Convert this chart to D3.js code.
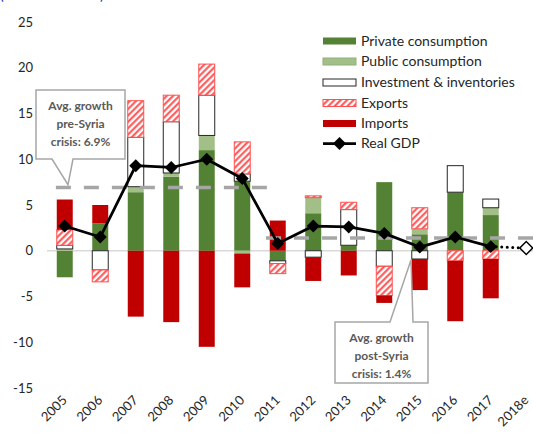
<!DOCTYPE html>
<html>
<head>
<meta charset="utf-8">
<script src="https://cdn.jsdelivr.net/npm/d3@7"></script>
<style>
body { margin: 0; background: #fff; }
svg { display: block; font-family: Lato, "Open Sans", sans-serif; }
</style>
</head>
<body>
<div id="chart"></div>
<script>
// Contributions to real GDP growth (percentage points)
var years = ["2005", "2006", "2007", "2008", "2009", "2010", "2011", "2012", "2013", "2014", "2015", "2016", "2017", "2018e"];
var privateCons = [-2.9, 3.0, 6.4, 8.1, 11.0, 7.6, -1.1, 4.1, 0.6, 7.5, 1.8, 6.4, 3.9, null];
var publicCons  = [0.2, 0, 0.6, 0.4, 1.6, -0.3, 0, 1.7, 0, 0, 0.6, 0, 0.8, null];
var investment  = [0.4, -2.1, 5.4, 5.6, 4.4, 0.8, -0.3, -0.7, 3.9, -1.7, -0.9, 2.9, 0.95, null];
var exportsC    = [1.7, -1.3, 4.0, 2.9, 3.4, 3.5, -1.1, 0.2, 0.8, -3.2, 2.3, -1.1, -0.9, null];
var importsC    = [3.3, 2.0, -7.2, -7.8, -10.5, -3.7, 3.3, -2.6, -2.7, -0.8, -3.4, -6.6, -4.3, null];
var realGDP     = [2.7, 1.5, 9.3, 9.1, 10.0, 7.9, 0.8, 2.7, 2.6, 1.9, 0.4, 1.5, 0.45, 0.3];
var yTicks = [-15, -10, -5, 0, 5, 10, 15, 20, 25];
var preAvg = 6.9, postAvg = 1.4;
var seriesNames = ["Private consumption", "Public consumption", "Investment & inventories", "Exports", "Imports"];
var keys = ["private", "public", "investment", "exports", "imports"];

var width = 533, height = 433;

var svg = d3.select("#chart").append("svg")
    .attr("width", width)
    .attr("height", height);

// hatch pattern for exports
var defs = svg.append("defs");
var pat = defs.append("pattern")
    .attr("id", "hatch")
    .attr("patternUnits", "userSpaceOnUse")
    .attr("width", 4.5)
    .attr("height", 4.5)
    .attr("patternTransform", "rotate(45)");
pat.append("rect").attr("width", 4.5).attr("height", 4.5).attr("fill", "#fff");
pat.append("line")
    .attr("x1", 1.2).attr("y1", 0).attr("x2", 1.2).attr("y2", 4.5)
    .attr("stroke", "#ff4d4d").attr("stroke-width", 2);

// scales
var x = d3.scaleBand()
    .domain(years)
    .range([47, 544])
    .paddingInner(0.55)
    .paddingOuter(0.275);

var y = d3.scaleLinear()
    .domain([-15, 25])
    .range([388, 22]);

var cx = function(yr) { return x(yr) + x.bandwidth() / 2; };

// subtitle, cut off by the top edge as in the source
svg.append("text")
    .attr("x", 0)
    .attr("y", 0)
    .attr("fill", "#3030b0")
    .style("font-size", "14px")
    .text("(% contributions)");

// y axis labels (no axis line)
svg.append("g").selectAll("text")
    .data(yTicks)
    .enter().append("text")
    .attr("x", 33)
    .attr("y", function(d) { return y(d); })
    .attr("dy", "0.35em")
    .attr("text-anchor", "end")
    .attr("fill", "#262626")
    .style("font-size", "13px")
    .text(function(d) { return d; });

// stacked bars
var rows = [];
for (var i = 0; i < years.length; i++) {
    if (privateCons[i] === null) continue;
    rows.push({
        year: years[i],
        "private": privateCons[i],
        "public": publicCons[i],
        "investment": investment[i],
        "exports": exportsC[i],
        "imports": importsC[i]
    });
}

var stacked = d3.stack()
    .keys(keys)
    .offset(d3.stackOffsetDiverging)(rows);

var fills = {
    "private": "#548235",
    "public": "#a2bf88",
    "investment": "#fff",
    "exports": "url(#hatch)",
    "imports": "#c00000"
};
var strokes = {
    "private": "none",
    "public": "none",
    "investment": "#262626",
    "exports": "#ff5050",
    "imports": "none"
};

// zero line
svg.append("line")
    .attr("x1", 47).attr("x2", 545)
    .attr("y1", y(0)).attr("y2", y(0))
    .attr("stroke", "#d9d9d9")
    .attr("stroke-width", 1.5);

svg.append("g").selectAll("g")
    .data(stacked)
    .enter().append("g")
    .each(function(s) {
        d3.select(this).selectAll("rect")
            .data(s.filter(function(d) { return d[1] - d[0] !== 0; }))
            .enter().append("rect")
            .attr("x", function(d) { return x(d.data.year); })
            .attr("width", x.bandwidth())
            .attr("y", function(d) { return y(d[1]); })
            .attr("height", function(d) { return y(d[0]) - y(d[1]); })
            .attr("fill", fills[s.key])
            .attr("stroke", strokes[s.key])
            .attr("stroke-width", 1);
    });

// average growth dashed lines
var step = x.step();
svg.append("line")
    .attr("x1", cx("2005") - 0.25 * step)
    .attr("x2", cx("2010") + 0.73 * step)
    .attr("y1", y(preAvg)).attr("y2", y(preAvg))
    .attr("stroke", "#a6a6a6")
    .attr("stroke-width", 3.5)
    .attr("stroke-dasharray", "15 13");
svg.append("line")
    .attr("x1", cx("2011") - 0.33 * step)
    .attr("x2", cx("2018e") + 0.5 * step)
    .attr("y1", y(postAvg)).attr("y2", y(postAvg))
    .attr("stroke", "#a6a6a6")
    .attr("stroke-width", 3.5)
    .attr("stroke-dasharray", "15 13");

// real GDP line
var gdpPts = years.map(function(yr, i) { return {year: yr, v: realGDP[i]}; });
var line = d3.line()
    .x(function(d) { return cx(d.year); })
    .y(function(d) { return y(d.v); });

svg.append("path")
    .datum(gdpPts.slice(0, 13))
    .attr("d", line)
    .attr("fill", "none")
    .attr("stroke", "#000")
    .attr("stroke-width", 2.75)
    .attr("stroke-linejoin", "round");

svg.append("path")
    .datum(gdpPts.slice(12))
    .attr("d", line)
    .attr("fill", "none")
    .attr("stroke", "#000")
    .attr("stroke-width", 3)
    .attr("stroke-linecap", "round")
    .attr("stroke-dasharray", "0 5.5");

var diamond = d3.symbol().type(d3.symbolSquare).size(84);
svg.append("g").selectAll("path")
    .data(gdpPts)
    .enter().append("path")
    .attr("d", diamond)
    .attr("transform", function(d) {
        return "translate(" + cx(d.year) + "," + y(d.v) + ") rotate(45)";
    })
    .attr("fill", function(d) { return d.year === "2018e" ? "#fff" : "#000"; })
    .attr("stroke", "#000")
    .attr("stroke-width", function(d) { return d.year === "2018e" ? 1.5 : 0; });

// x axis labels, rotated
svg.append("g").selectAll("text")
    .data(years)
    .enter().append("text")
    .attr("transform", function(d) {
        return "translate(" + (cx(d) + 3) + ",401) rotate(-45)";
    })
    .attr("text-anchor", "end")
    .attr("fill", "#262626")
    .style("font-size", "13px")
    .text(function(d) { return d; });

// legend
var legend = svg.append("g");
var legendY = [41, 61.5, 82.5, 103, 123.5, 143.5];
seriesNames.forEach(function(name, i) {
    var k = keys[i];
    legend.append("rect")
        .attr("x", 323)
        .attr("y", legendY[i] - 3.5)
        .attr("width", 33)
        .attr("height", 7)
        .attr("fill", fills[k])
        .attr("stroke", strokes[k] === "none" ? (k === "public" ? "#8fb07a" : "none") : strokes[k])
        .attr("stroke-width", 1);
    legend.append("text")
        .attr("x", 361)
        .attr("y", legendY[i])
        .attr("dy", "0.35em")
        .attr("fill", "#262626")
        .style("font-size", "14px")
        .text(name);
});
legend.append("line")
    .attr("x1", 323).attr("x2", 356)
    .attr("y1", legendY[5]).attr("y2", legendY[5])
    .attr("stroke", "#000")
    .attr("stroke-width", 2.75);
legend.append("path")
    .attr("d", diamond)
    .attr("transform", "translate(339.5," + legendY[5] + ") rotate(45)")
    .attr("fill", "#000");
legend.append("text")
    .attr("x", 361)
    .attr("y", legendY[5])
    .attr("dy", "0.35em")
    .attr("fill", "#262626")
    .style("font-size", "14px")
    .text("Real GDP");

// callouts
function callout(pathD, cxText, lines, y0) {
    svg.append("path")
        .attr("d", pathD)
        .attr("fill", "#fff")
        .attr("stroke", "#a6a6a6")
        .attr("stroke-width", 1.5);
    svg.append("g").selectAll("text")
        .data(lines)
        .enter().append("text")
        .attr("x", cxText)
        .attr("y", function(d, i) { return y0 + i * 18; })
        .attr("text-anchor", "middle")
        .attr("fill", "#595959")
        .style("font-size", "12px")
        .style("font-weight", "bold")
        .text(function(d) { return d; });
}

callout("M36,90H125V159H73L68," + (y(preAvg) - 3) + "L52,159H36Z",
    80.5, ["Avg. growth", "pre-Syria", "crisis: 6.9%"], 110);
callout("M335,322H390L411,260L413,322H428V383H335Z",
    381.5, ["Avg. growth", "post-Syria", "crisis: 1.4%"], 342);
</script>
</body>
</html>
